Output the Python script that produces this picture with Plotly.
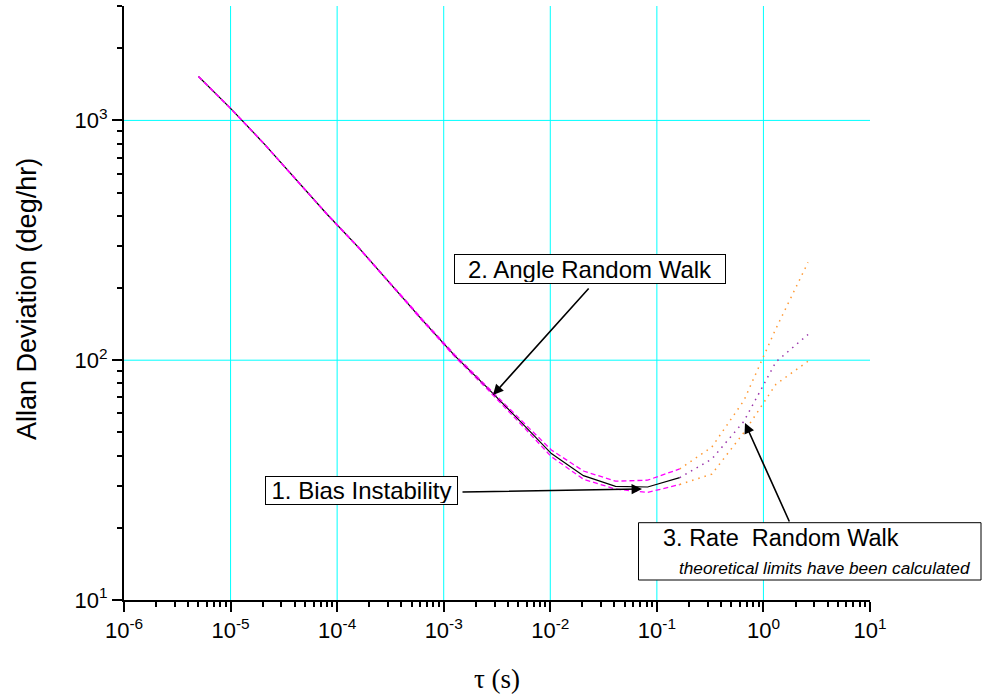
import plotly.graph_objects as go

# ---------------- data ----------------
tau_main = [5.0e-6, 1.0e-5, 2.0e-5, 4.0e-5, 8.0e-5, 1.6e-4, 3.2e-4, 6.4e-4,
            1.28e-3, 2.56e-3, 5.12e-3, 1.024e-2, 2.048e-2, 4.096e-2, 8.192e-2, 0.16384]
adev_main = [1524, 1122, 811, 575, 407, 294, 207, 146, 104, 76.8, 56.1, 40.8,
             33.0, 29.8, 29.6, 32.4]
adev_upper = [1525, 1123, 812, 576, 408, 295, 208, 147, 105, 77.8, 57.2, 42.2,
              34.5, 31.3, 31.6, 35.2]
adev_lower = [1523, 1121, 810, 574, 406, 293, 206, 145, 103, 75.8, 55.0, 39.6,
              31.9, 29.0, 28.1, 30.3]

tau_tail = [0.16384, 0.32768, 0.65536, 1.31072, 2.62144]
adev_tail = [32.4, 38.7, 55.6, 98.4, 128]
adev_tail_upper = [35.2, 43.4, 67.9, 135.5, 256]
adev_tail_lower = [30.3, 33.5, 49.9, 79.4, 99]

x_tickvals = [1e-6, 1e-5, 1e-4, 1e-3, 1e-2, 1e-1, 1e0, 1e1]
x_ticktext = ["10<sup>-6</sup>", "10<sup>-5</sup>", "10<sup>-4</sup>", "10<sup>-3</sup>",
              "10<sup>-2</sup>", "10<sup>-1</sup>", "10<sup>0</sup>", "10<sup>1</sup>"]
y_tickvals = [10, 100, 1000]
y_ticktext = ["10<sup>1</sup>", "10<sup>2</sup>", "10<sup>3</sup>"]
x_gridvals = [1e-5, 1e-4, 1e-3, 1e-2, 1e-1, 1e0]
y_gridvals = [100, 1000]

x_minor = [k * 10.0 ** e for e in range(-6, 1) for k in range(2, 10)]
y_minor = [k * 10.0 ** e for e in range(1, 4) for k in range(2, 10) if k * 10.0 ** e <= 3000]

SANS = "Liberation Sans, Arial, Helvetica, sans-serif"
SERIF = "Liberation Serif, Times New Roman, serif"
GRID = "#00FFFF"

fig = go.Figure()
fig.add_trace(go.Scatter(x=tau_main, y=adev_main, mode="lines",
                         line=dict(color="black", width=1.2)))
fig.add_trace(go.Scatter(x=tau_main, y=adev_upper, mode="lines",
                         line=dict(color="#FF00FF", width=1.3, dash="5px,3px")))
fig.add_trace(go.Scatter(x=tau_main, y=adev_lower, mode="lines",
                         line=dict(color="#FF00FF", width=1.3, dash="5px,3px")))
fig.add_trace(go.Scatter(x=tau_tail, y=adev_tail, mode="lines",
                         line=dict(color="#9933AA", width=1.5, dash="1.5px,5px")))
fig.add_trace(go.Scatter(x=tau_tail, y=adev_tail_upper, mode="lines",
                         line=dict(color="#FF9933", width=1.5, dash="1.5px,5px")))
fig.add_trace(go.Scatter(x=tau_tail, y=adev_tail_lower, mode="lines",
                         line=dict(color="#FF9933", width=1.5, dash="1.5px,5px")))

axis_common = dict(
    type="log", showline=True, linecolor="black", linewidth=2,
    ticks="outside", ticklen=10, tickwidth=2, tickcolor="black",
    tickfont=dict(family=SANS, size=22, color="black"),
    showgrid=False, zeroline=False,
)

fig.update_xaxes(range=[-6, 1], tickmode="array", tickvals=x_tickvals, ticktext=x_ticktext,
                 minor=dict(tickmode="array", tickvals=x_minor, ticks="outside", ticklen=5,
                            tickwidth=2, tickcolor="black", showgrid=False),
                 **axis_common)
fig.update_yaxes(range=[1, 3.4771], tickmode="array", tickvals=y_tickvals, ticktext=y_ticktext,
                 minor=dict(tickmode="array", tickvals=y_minor, ticks="outside", ticklen=5,
                            tickwidth=2, tickcolor="black", showgrid=False),
                 **axis_common)

W, H = 984, 698
L, R, T, B = 124, 114, 6, 98
PW, PH = W - L - R, H - T - B


def px(x):
    return (x - L) / PW


def py(y):
    return (H - B - y) / PH


annotations = [
    # text boxes
    dict(x=px(361), y=py(490.3), xref="paper", yref="paper", text="1. Bias Instability",
         showarrow=False, font=dict(family=SANS, size=24, color="black"),
         bordercolor="black", borderwidth=1, borderpad=1, bgcolor="white",
         width=189, height=25, xanchor="center", yanchor="middle"),
    dict(x=px(589.7), y=py(269.2), xref="paper", yref="paper", text="2. Angle Random Walk",
         showarrow=False, font=dict(family=SANS, size=24, color="black"),
         bordercolor="black", borderwidth=1, borderpad=1, bgcolor="white",
         width=268, height=26, xanchor="center", yanchor="middle"),
    dict(x=px(661), y=py(538), xref="paper", yref="paper", text="3. Rate&nbsp;&nbsp;Random Walk",
         showarrow=False, font=dict(family=SANS, size=23.5, color="black"),
         xanchor="left", yanchor="middle"),
    dict(x=px(677), y=py(568), xref="paper", yref="paper",
         text="<i>theoretical limits have been calculated</i>",
         showarrow=False, font=dict(family=SANS, size=17.2, color="black"),
         xanchor="left", yanchor="middle"),
    # arrows (tip at x, y; tail offset ax, ay in pixels)
    dict(x=px(642), y=py(489), xref="paper", yref="paper", text="", showarrow=True,
         ax=-181, ay=3, arrowhead=2, arrowsize=1.3, arrowwidth=1.6, arrowcolor="black"),
    dict(x=px(493), y=py(395), xref="paper", yref="paper", text="", showarrow=True,
         ax=97, ay=-108, arrowhead=2, arrowsize=1.3, arrowwidth=1.6, arrowcolor="black"),
    dict(x=px(745), y=py(423), xref="paper", yref="paper", text="", showarrow=True,
         ax=45, ay=100, arrowhead=2, arrowsize=1.3, arrowwidth=1.6, arrowcolor="black"),
    # axis titles
    dict(x=px(27), y=py(299), xref="paper", yref="paper", text="Allan Deviation (deg/hr)",
         showarrow=False, textangle=-90, font=dict(family=SANS, size=27, color="black"),
         xanchor="center", yanchor="middle"),
    dict(x=px(497), y=py(679), xref="paper", yref="paper", text="\u03c4 (s)",
         showarrow=False, font=dict(family=SERIF, size=27, color="black"),
         xanchor="center", yanchor="middle"),
]

shapes = []
for v in x_gridvals:
    shapes.append(dict(type="line", xref="x", yref="paper", x0=v, x1=v, y0=0, y1=1,
                       line=dict(color=GRID, width=1), layer="below"))
for v in y_gridvals:
    shapes.append(dict(type="line", xref="paper", yref="y", x0=0, x1=1, y0=v, y1=v,
                       line=dict(color=GRID, width=1), layer="below"))
shapes.append(dict(type="rect", xref="paper", yref="paper", x0=px(638.5), x1=px(981),
                   y0=py(580), y1=py(522.7),
                   line=dict(color="black", width=1), fillcolor="white", layer="above"))

fig.update_layout(
    width=W, height=H, autosize=False,
    margin=dict(l=L, r=R, t=T, b=B, pad=0),
    paper_bgcolor="white", plot_bgcolor="white",
    showlegend=False,
    annotations=annotations, shapes=shapes,
)

fig.write_html("out.html", config={"displayModeBar": False},
               post_script="document.body.style.margin='0px';")
